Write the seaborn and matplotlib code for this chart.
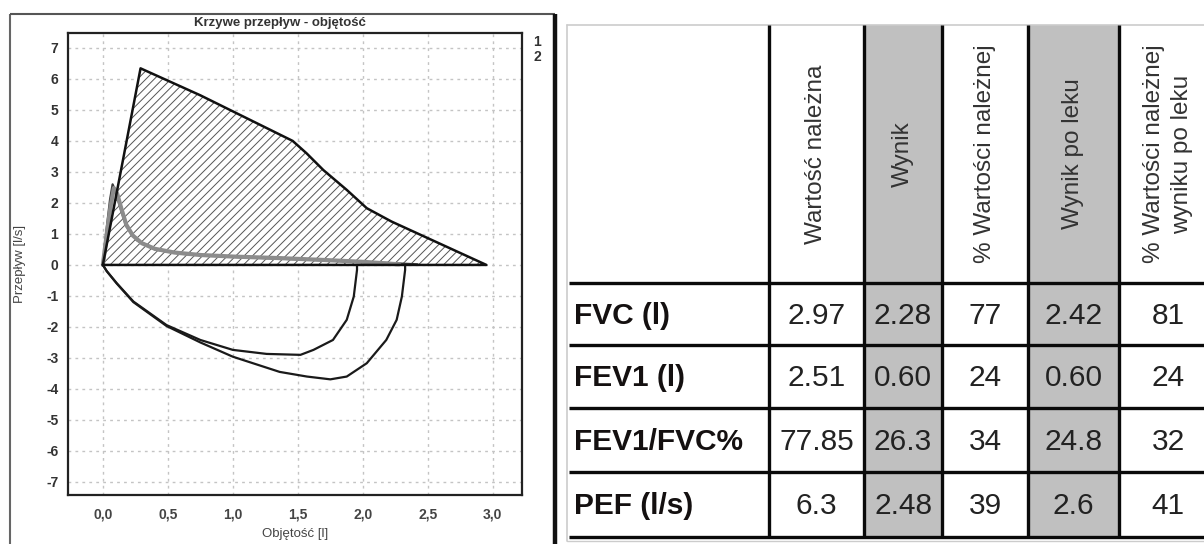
import matplotlib
matplotlib.use("Agg")
import matplotlib.pyplot as plt
import seaborn as sns
import pandas as pd
from matplotlib.patches import Rectangle

# ---------------- data: flow-volume curves ----------------
# predicted expiratory envelope (hatched area)
pred_vol = [0.0, 0.29, 0.75, 1.46, 1.567, 1.696, 1.876, 2.03, 2.22, 2.95]
pred_flow = [0.0, 6.34, 5.47, 4.0, 3.60, 3.06, 2.42, 1.83, 1.40, 0.0]

# measured expiratory curves
exp1_vol = [0.0, 0.03, 0.06, 0.085, 0.11, 0.14, 0.18, 0.23, 0.30, 0.40, 0.55, 0.75, 1.0, 1.36, 1.7, 2.0, 2.28]
exp1_flow = [0.0, 1.0, 1.9, 2.48, 2.3, 1.85, 1.3, 0.95, 0.70, 0.52, 0.40, 0.32, 0.27, 0.22, 0.16, 0.10, 0.02]
exp2_vol = [0.0, 0.03, 0.055, 0.075, 0.10, 0.13, 0.18, 0.26, 0.40, 0.60, 1.0, 1.5, 2.0, 2.42]
exp2_flow = [0.0, 1.2, 2.1, 2.6, 2.35, 1.9, 1.25, 0.80, 0.50, 0.36, 0.26, 0.18, 0.10, 0.02]

# inspiratory loops
insp1_vol = [0.0, 0.03, 0.107, 0.235, 0.49, 0.75, 1.0, 1.26, 1.52, 1.62, 1.77, 1.876, 1.93, 1.955, 1.955]
insp1_flow = [0.0, -0.2, -0.59, -1.18, -1.94, -2.42, -2.74, -2.87, -2.90, -2.74, -2.42, -1.77, -1.02, -0.16, 0.0]
insp2_vol = [0.0, 0.03, 0.107, 0.235, 0.49, 0.75, 1.0, 1.36, 1.57, 1.75, 1.876, 2.03, 2.18, 2.26, 2.30, 2.325, 2.325]
insp2_flow = [0.0, -0.2, -0.6, -1.2, -1.97, -2.5, -2.96, -3.45, -3.6, -3.69, -3.6, -3.17, -2.42, -1.77, -1.02, -0.16, 0.0]

x_ticks = [0.0, 0.5, 1.0, 1.5, 2.0, 2.5, 3.0]
x_tick_labels = ["0,0", "0,5", "1,0", "1,5", "2,0", "2,5", "3,0"]
y_ticks = [-7, -6, -5, -4, -3, -2, -1, 0, 1, 2, 3, 4, 5, 6, 7]
y_tick_labels = ["-7", "-6", "-5", "-4", "-3", "-2", "-1", "0", "1", "2", "3", "4", "5", "6", "7"]

chart_title = "Krzywe przepływ - objętość"
x_label = "Objętość [l]"
y_label = "Przepływ [l/s]"
curve_ids = ["1", "2"]

# ---------------- data: table ----------------
row_labels = ["FVC (l)", "FEV1 (l)", "FEV1/FVC%", "PEF (l/s)"]
col_headers = ["Wartość należna", "Wynik", "% Wartości należnej", "Wynik po leku",
               "% Wartości należnej\nwyniku po leku"]
predicted = ["2.97", "2.51", "77.85", "6.3"]
result = ["2.28", "0.60", "26.3", "2.48"]
pct_predicted = ["77", "24", "34", "39"]
result_after = ["2.42", "0.60", "24.8", "2.6"]
pct_after = ["81", "24", "32", "41"]
shaded_columns = [1, 3]  # "Wynik", "Wynik po leku"

# ---------------- style ----------------
sns.set_style("white")
plt.rcParams["font.family"] = ["Liberation Sans", "DejaVu Sans"]
plt.rcParams["hatch.linewidth"] = 0.7

W, H = 1204, 544
fig = plt.figure(figsize=(W / 100, H / 100), dpi=100)
fig.patch.set_facecolor("white")

# background overlay in pixel coordinates (frame + table)
bg = fig.add_axes([0, 0, 1, 1])
bg.set_xlim(0, W)
bg.set_ylim(H, 0)
bg.axis("off")

# left panel frame
bg.plot([10, 10], [14, H], color="#666666", lw=1.5, solid_capstyle="butt")
bg.plot([10, 555], [14, 14], color="#555555", lw=1.5, solid_capstyle="butt")
bg.plot([555, 555], [14, H], color="#111111", lw=3.2, solid_capstyle="butt")

# table layout
col_edges = [567, 769, 864, 942, 1028, 1119, 1217]
row_edges = [25, 283, 345, 408, 472, 537]
grey = "#c0c0c0"
for c in shaded_columns:
    x0, x1 = col_edges[c + 1], col_edges[c + 2]
    bg.add_patch(Rectangle((x0, row_edges[0]), x1 - x0, row_edges[-1] - row_edges[0],
                           facecolor=grey, edgecolor="none", zorder=1))
bg.plot([col_edges[0], W], [row_edges[0], row_edges[0]], color="#cccccc", lw=1.2, zorder=2)
bg.plot([col_edges[0], col_edges[0]], [row_edges[0], 541], color="#cccccc", lw=1.2, zorder=2)
bg.plot([col_edges[0], W], [541, 541], color="#cccccc", lw=1.0, zorder=2)
for y in row_edges[1:]:
    bg.plot([col_edges[0] + 2, W], [y, y], color="#0a0a0a", lw=2.4, zorder=3,
            solid_capstyle="butt")
for x in col_edges[1:-1]:
    bg.plot([x, x], [row_edges[0], row_edges[-1]], color="#0a0a0a", lw=2.4, zorder=3,
            solid_capstyle="butt")

# header texts
for i, h in enumerate(col_headers):
    cx = (col_edges[i + 1] + col_edges[i + 2]) / 2
    cy = (row_edges[0] + row_edges[1]) / 2
    bg.text(cx, cy, h, rotation=90, ha="center", va="center", fontsize=17.5,
            color="#333333", multialignment="center", linespacing=1.35, zorder=4)

columns = [predicted, result, pct_predicted, result_after, pct_after]
for r, lab in enumerate(row_labels):
    cy = (row_edges[r + 1] + row_edges[r + 2]) / 2 + 2
    bg.text(col_edges[0] + 7, cy, lab, ha="left", va="center", fontsize=21.5,
            fontweight="bold", color="#141010", zorder=4)
    for c, col in enumerate(columns):
        cx = (col_edges[c + 1] + col_edges[c + 2]) / 2
        bg.text(cx, cy, col[r], ha="center", va="center", fontsize=21.5,
                color="#222222", zorder=4)

# ---------------- flow-volume chart ----------------
ax = fig.add_axes([68 / W, 1 - 495 / H, 454 / W, 462 / H])
ax.set_facecolor("white")
ax.set_xlim(-0.268, 3.224)
ax.set_ylim(-7.42, 7.48)
ax.set_axisbelow(True)
ax.grid(True, linestyle=(0, (2, 3)), color="#c4c4c4", lw=1.0)

ax.fill_between(pred_vol, pred_flow, 0, facecolor="white", edgecolor="#555555",
                hatch="////", linewidth=0, zorder=2)
env = pd.DataFrame({"vol": pred_vol + [pred_vol[0]], "flow": pred_flow + [pred_flow[0]]})
sns.lineplot(data=env, x="vol", y="flow", ax=ax, sort=False, estimator=None,
             color="#111111", lw=1.8, zorder=5)

sns.lineplot(x=exp2_vol, y=exp2_flow, ax=ax, sort=False, estimator=None,
             color="#3a3a3a", lw=1.6, zorder=3)
sns.lineplot(x=exp1_vol, y=exp1_flow, ax=ax, sort=False, estimator=None,
             color="#8c8c8c", lw=3.0, zorder=4)
sns.lineplot(x=insp1_vol, y=insp1_flow, ax=ax, sort=False, estimator=None,
             color="#1a1a1a", lw=1.6, zorder=4)
sns.lineplot(x=insp2_vol, y=insp2_flow, ax=ax, sort=False, estimator=None,
             color="#1a1a1a", lw=1.6, zorder=4)

ax.set_xticks(x_ticks)
ax.set_xticklabels(x_tick_labels)
ax.set_yticks(y_ticks)
ax.set_yticklabels(y_tick_labels)
ax.tick_params(axis="both", direction="out", length=4, width=1.5, color="#333333",
               labelsize=10)
ax.tick_params(axis="x", pad=5, labelcolor="#444444")
ax.tick_params(axis="y", pad=3, labelcolor="#333333")
for lbl in ax.get_xticklabels() + ax.get_yticklabels():
    lbl.set_fontweight("bold")
for s in ax.spines.values():
    s.set_color("#222222")
    s.set_linewidth(1.6)

ax.set_xlabel(x_label, fontsize=9.5, color="#444444")
ax.set_ylabel(y_label, fontsize=9.5, color="#444444")
ax.xaxis.set_label_coords(0.5, -0.071)
ax.yaxis.set_label_coords(-0.0925, 0.5)

fig.text(280 / W, 1 - 23 / H, chart_title, ha="center", va="center", fontsize=9.5,
         fontweight="bold", color="#333333")
fig.text(537 / W, 1 - 42 / H, curve_ids[0], ha="center", va="center", fontsize=10,
         fontweight="bold", color="#333333")
fig.text(537 / W, 1 - 57 / H, curve_ids[1], ha="center", va="center", fontsize=10,
         fontweight="bold", color="#333333")

fig.savefig("out.png", dpi=100)
